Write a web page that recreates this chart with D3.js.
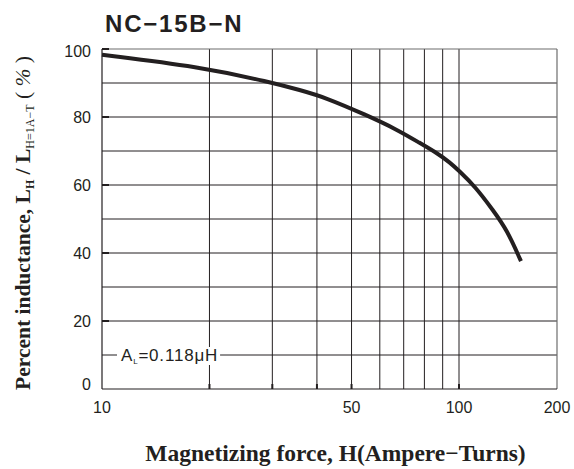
<!DOCTYPE html>
<html>
<head>
<meta charset="utf-8">
<script src="https://cdn.jsdelivr.net/npm/d3@7"></script>
<style>
  body { margin: 0; background: #fff; }
  svg { display: block; }
</style>
</head>
<body>
<div id="chart"></div>
<script>
// data (H in ampere-turns, L in %)
const hValues = [10, 18.7, 29.8, 35.9, 42.1, 54.9, 67.1, 77.8, 86.8, 94.4, 100, 112, 127.2, 140.4, 155];
const inductance = [98.3, 94.8, 90.2, 87.9, 85.8, 80.6, 76.3, 72.3, 69.4, 66.6, 64.2, 59.6, 52.6, 46.8, 37.6];

const xGrid = [20, 30, 40, 50, 60, 70, 80, 90, 100];
const xTickMarks = [20, 30, 40, 50, 100];
const xLabels = [10, 50, 100, 200];
const yGrid = [10, 20, 30, 40, 50, 60, 70, 80, 90];
const yLabels = [0, 20, 40, 60, 80, 100];

const title = "NC\u221215B\u2212N";
const noteText = "=0.118\u03bcH";

const width = 574;
const height = 469;
const margin = { top: 49, right: 17, bottom: 80, left: 102 };

const svg = d3.select("#chart")
  .append("svg")
  .attr("width", width)
  .attr("height", height);

const x = d3.scaleLog()
  .domain([10, 100, 200])
  .range([margin.left, 459, width - margin.right]);

const y = d3.scaleLinear()
  .domain([0, 100])
  .range([height - margin.bottom, margin.top]);

const x0 = x.range()[0], x1 = x.range()[2];
const y0 = y.range()[0], y1 = y.range()[1];

// grid
svg.append("g")
  .selectAll("line")
  .data(xGrid)
  .join("line")
  .attr("x1", d => x(d)).attr("x2", d => x(d))
  .attr("y1", y0).attr("y2", y1)
  .attr("stroke", "#231f20")
  .attr("stroke-width", 1);

svg.append("g")
  .selectAll("line")
  .data(yGrid)
  .join("line")
  .attr("x1", x0).attr("x2", x1)
  .attr("y1", d => y(d)).attr("y2", d => y(d))
  .attr("stroke", "#231f20")
  .attr("stroke-width", 1);

// frame
svg.append("line")
  .attr("x1", x0).attr("x2", x1).attr("y1", y1).attr("y2", y1)
  .attr("stroke", "#6d6d6d").attr("stroke-width", 1.2);
svg.append("line")
  .attr("x1", x1).attr("x2", x1).attr("y1", y1).attr("y2", y0)
  .attr("stroke", "#6d6d6d").attr("stroke-width", 1.2);
svg.append("line")
  .attr("x1", x0).attr("x2", x0).attr("y1", y1).attr("y2", y0)
  .attr("stroke", "#231f20").attr("stroke-width", 1.2);
svg.append("line")
  .attr("x1", x0).attr("x2", x1).attr("y1", y0).attr("y2", y0)
  .attr("stroke", "#231f20").attr("stroke-width", 1.2);

// short inner tick marks
svg.append("g")
  .selectAll("line")
  .data(xTickMarks)
  .join("line")
  .attr("x1", d => x(d)).attr("x2", d => x(d))
  .attr("y1", y0).attr("y2", y0 - 5)
  .attr("stroke", "#231f20")
  .attr("stroke-width", 2);

svg.append("g")
  .selectAll("line")
  .data(yLabels.slice(1))
  .join("line")
  .attr("x1", x0).attr("x2", x0 + 7)
  .attr("y1", d => y(d)).attr("y2", d => y(d))
  .attr("stroke", "#231f20")
  .attr("stroke-width", 2);

// tick labels
svg.append("g")
  .selectAll("text")
  .data(xLabels)
  .join("text")
  .attr("x", d => x(d))
  .attr("y", y0 + 24)
  .attr("text-anchor", "middle")
  .style("font-family", "Liberation Sans, Arial, sans-serif")
  .style("font-size", "16px")
  .attr("fill", "#231f20")
  .text(d => d);

svg.append("g")
  .selectAll("text")
  .data(yLabels)
  .join("text")
  .attr("x", x0 - 11)
  .attr("y", d => y(d) + (d === 0 ? 1 : d === 100 ? 8 : 6))
  .attr("text-anchor", "end")
  .style("font-family", "Liberation Sans, Arial, sans-serif")
  .style("font-size", "16px")
  .attr("fill", "#231f20")
  .text(d => d);

// A_L note on the 10% line
const note = svg.append("g");
const noteBg = note.append("rect").attr("fill", "#fff");
const noteTxt = note.append("text")
  .attr("x", 121)
  .attr("y", y(10) + 6)
  .style("font-family", "Liberation Sans, Arial, sans-serif")
  .style("font-size", "17px")
  .style("letter-spacing", "0.8px")
  .attr("fill", "#231f20");
noteTxt.append("tspan").text("A");
noteTxt.append("tspan").attr("dy", 3).style("font-size", "8px").text("L");
noteTxt.append("tspan").attr("dy", -3).text(noteText);
const bb = noteTxt.node().getBBox();
noteBg.attr("x", bb.x - 4).attr("y", bb.y + 1).attr("width", bb.width + 6).attr("height", bb.height - 2);

// curve
const line = d3.line()
  .x((d, i) => x(hValues[i]))
  .y(d => y(d))
  .curve(d3.curveBasis);

svg.append("path")
  .datum(inductance)
  .attr("d", line)
  .attr("fill", "none")
  .attr("stroke", "#231f20")
  .attr("stroke-width", 4);

// title
svg.append("text")
  .attr("x", 105)
  .attr("y", 32)
  .style("font-family", "Liberation Sans, Arial, sans-serif")
  .style("font-weight", "bold")
  .style("font-size", "24px")
  .style("letter-spacing", "1.8px")
  .attr("fill", "#231f20")
  .text(title);

// x axis title
svg.append("text")
  .attr("x", (x0 + x1) / 2 + 6)
  .attr("y", 461)
  .attr("text-anchor", "middle")
  .style("font-family", "Liberation Serif, Times New Roman, serif")
  .style("font-weight", "bold")
  .style("font-size", "23.5px")
  .attr("fill", "#231f20")
  .text("Magnetizing force, H(Ampere\u2212Turns)");

// y axis title
const yt = svg.append("text")
  .attr("transform", `translate(30,${(y0 + y1) / 2 + 4}) rotate(-90)`)
  .attr("text-anchor", "middle")
  .style("font-family", "Liberation Serif, Times New Roman, serif")
  .style("font-weight", "bold")
  .style("font-size", "21.5px")
  .attr("fill", "#231f20");
yt.append("tspan").text("Percent inductance, L");
yt.append("tspan").attr("dy", 4).style("font-size", "12px").text("H");
yt.append("tspan").attr("dy", -4).text(" / L");
yt.append("tspan").attr("dy", 4).style("font-size", "12px").style("font-weight", "normal").text("H=1A\u2212T");
yt.append("tspan").attr("dy", -4).style("font-weight", "normal").text(" ( ");
yt.append("tspan").style("font-style", "italic").style("font-weight", "normal").text("%");
yt.append("tspan").style("font-weight", "normal").text(" )");
</script>
</body>
</html>
